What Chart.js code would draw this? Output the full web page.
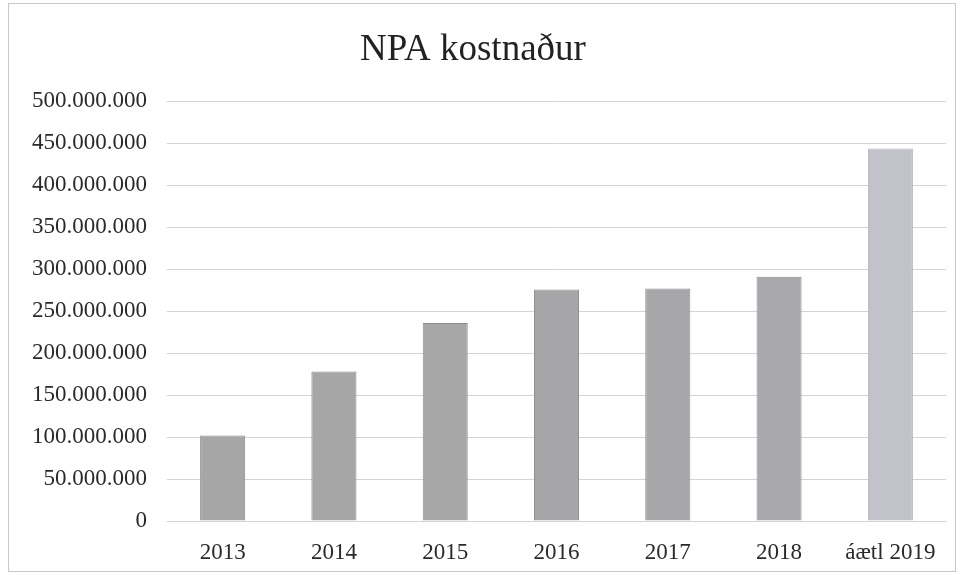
<!DOCTYPE html>
<html>
<head>
<meta charset="utf-8">
<script src="https://cdn.jsdelivr.net/npm/chart.js@4/dist/chart.umd.min.js"></script>
<style>
  html, body { margin: 0; padding: 0; background: #fff; }
  #wrap { width: 962px; height: 575px; }
</style>
</head>
<body>
<div id="wrap"><canvas id="chart" width="962" height="575"></canvas></div>
<script>
var years = ['2013', '2014', '2015', '2016', '2017', '2018', 'áætl 2019'];
var kostnadur = [102000000, 178000000, 236000000, 276000000, 277000000, 291000000, 444000000];
var barColors = ['#a6a6a6', '#a6a6a6', '#a7a7a7', '#a6a6a8', '#a7a7a9', '#a8a8ad', '#c2c2ca'];
var edgeColors = ['#8c8c8c', '#8c8c8c', '#8c8c8c', '#8c8c8e', '#8c8c8e', '#8e8e94', '#b0b0b8'];

Chart.defaults.font.family = 'Liberation Serif';
Chart.defaults.color = '#2a2a2a';

function dots(v) {
  return String(v).replace(/\B(?=(\d{3})+(?!\d))/g, '.');
}

// faint frame from the scanned page
var framePlugin = {
  id: 'frame',
  beforeDraw: function(chart) {
    var ctx = chart.ctx;
    ctx.save();
    ctx.fillStyle = '#fff';
    ctx.fillRect(0, 0, chart.width, chart.height);
    ctx.strokeStyle = '#c8c8c8';
    ctx.lineWidth = 1;
    ctx.strokeRect(8.5, 3.5, 947, 568);
    ctx.restore();
  }
};

var chart = new Chart('chart', {
  type: 'bar',
  data: {
    labels: years,
    datasets: [{
      data: kostnadur,
      backgroundColor: barColors,
      borderColor: edgeColors,
      borderWidth: 1,
      borderSkipped: 'bottom',
      categoryPercentage: 1,
      barPercentage: 0.405
    }]
  },
  options: {
    responsive: false,
    animation: false,
    layout: { padding: { top: 28, right: 16, left: 0, bottom: 0 } },
    plugins: {
      legend: { display: false },
      tooltip: { enabled: false },
      title: {
        display: true,
        text: 'NPA kostnaður',
        font: { size: 37, weight: 'normal' },
        color: '#222',
        padding: { top: 0, bottom: 29 }
      }
    },
    scales: {
      x: {
        grid: { display: false },
        border: { display: false },
        ticks: { font: { size: 23 }, padding: 10, maxRotation: 0 },
        afterFit: function(s) { s.height = 54; }
      },
      y: {
        min: 0,
        max: 500000000,
        border: { display: false },
        grid: { color: '#d4d4d4', lineWidth: 1, drawTicks: false },
        ticks: {
          stepSize: 50000000,
          font: { size: 23 },
          padding: 20,
          callback: function(v) { return dots(v); }
        },
        afterFit: function(s) { s.width = 167; }
      }
    }
  },
  plugins: [framePlugin]
});
</script>
</body>
</html>
